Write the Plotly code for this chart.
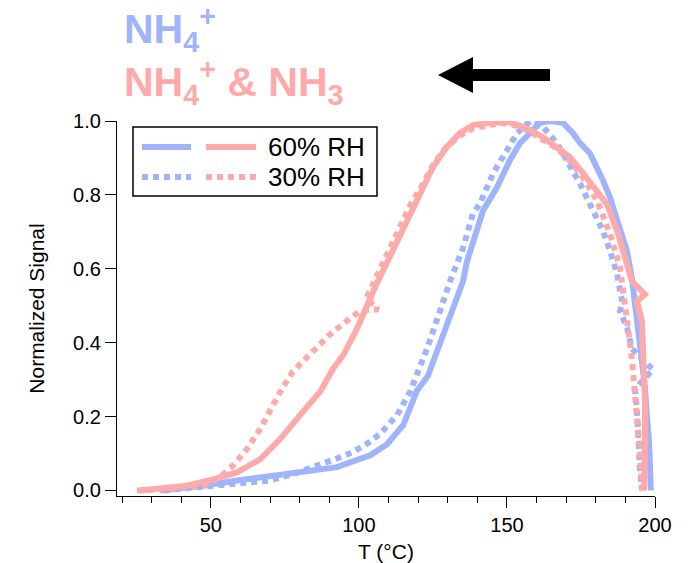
import plotly.graph_objects as go

# ---- data ----
blue_60_T = [32.8, 40, 47.4, 58.8, 70, 81, 92.6, 103.8, 109.5, 115, 118, 119.6, 123.3, 126.4, 128.4,
             131.8, 135.2, 136.5, 140.2, 141.9, 146.6, 151, 154.4, 157.8, 161.2, 164.5, 168.9, 172.3,
             174.7, 178, 180.4, 182.4, 184.8, 187.5, 190.5, 192.2, 193.9, 195.6, 196.6, 197.3, 198.0, 198.6]
blue_60_S = [0.0, 0.005, 0.013, 0.027, 0.04, 0.049, 0.063, 0.095, 0.125, 0.177, 0.235, 0.27, 0.31, 0.376, 0.43,
             0.493, 0.567, 0.62, 0.71, 0.757, 0.82, 0.894, 0.94, 0.967, 0.995, 1.0, 0.995, 0.967,
             0.94, 0.913, 0.875, 0.84, 0.793, 0.72, 0.648, 0.575, 0.466, 0.36, 0.28, 0.2, 0.13, 0.0]

blue_30_T = [34, 45, 53, 62, 70, 78, 86.9, 92, 98, 103, 107.1, 112.9, 117.3, 120.6, 123, 125,
             130.8, 135.2, 138.5, 140.9, 145.3, 150, 153.4, 157.8, 162.2, 166.9, 170.3, 172.3, 174.7,
             177.4, 182.4, 184.8, 187.2, 188.9, 188.2, 190.6, 192.2, 199.3, 193.2, 193.9, 194.3, 194.9, 195.6]
blue_30_S = [0.0, 0.008, 0.013, 0.02, 0.027, 0.045, 0.068, 0.085, 0.104, 0.128, 0.153, 0.204, 0.267, 0.33, 0.384, 0.43,
             0.567, 0.657, 0.749, 0.777, 0.858, 0.921, 0.967, 1.0, 0.984, 0.94, 0.894, 0.866, 0.83,
             0.785, 0.703, 0.649, 0.586, 0.512, 0.485, 0.439, 0.384, 0.327, 0.275, 0.22, 0.131, 0.057, 0.0]

pink_60_T = [26, 42, 50.7, 58.8, 66.6, 73.4, 80.1, 86.9, 91.3, 95, 99.4, 103.1, 106, 108.1, 111.5, 116.2,
             120.6, 125, 129.7, 134.1, 138.5, 144.3, 151, 156.8, 162.2, 166.9, 171.3, 175.7, 180.4,
             183.8, 187.5, 190.9, 192.2, 196.6, 193.9, 195.6, 196.3, 196.6, 196.6, 196.3]
pink_60_S = [0.0, 0.013, 0.03, 0.049, 0.084, 0.139, 0.204, 0.267, 0.33, 0.37, 0.439, 0.512, 0.56, 0.594, 0.649, 0.73,
             0.804, 0.875, 0.93, 0.967, 0.989, 0.995, 0.997, 0.98, 0.956, 0.929, 0.902, 0.858, 0.812,
             0.775, 0.695, 0.602, 0.567, 0.531, 0.512, 0.458, 0.349, 0.24, 0.131, 0.0]

pink_30_T = [25, 36, 47.4, 53, 57.5, 62.2, 66.6, 70, 73.4, 77.7, 84.5, 90.2, 97, 100.4, 103.5, 106.5,
             102.5, 106, 109.5, 113.5, 117.5, 121, 125, 129, 134, 138.5, 144, 148, 152, 157, 162,
             167, 171.5, 175.5, 180.4, 184.8, 188.2, 189.9, 190.9, 192.2, 193.2, 194.3, 194.9, 195.6]
pink_30_S = [0.0, 0.004, 0.013, 0.035, 0.068, 0.112, 0.166, 0.22, 0.267, 0.322, 0.376, 0.422, 0.466, 0.485, 0.49, 0.49,
             0.52, 0.58, 0.64, 0.71, 0.775, 0.82, 0.88, 0.925, 0.96, 0.98, 0.99, 0.995, 0.99, 0.975, 0.95,
             0.925, 0.89, 0.85, 0.785, 0.695, 0.602, 0.512, 0.439, 0.357, 0.275, 0.193, 0.104, 0.0]

x_ticks = [50, 100, 150, 200]
y_ticks = [0.0, 0.2, 0.4, 0.6, 0.8, 1.0]
legend_labels = ["60% RH", "30% RH"]

BLUE = "#a0b4fb"
PINK = "#ffaaaa"
LW = 6
DOT = "6px,5px"

# plot area in pixels (for placing decorations in paper coords)
L, R, T, B = 117, 655, 121, 496
def pxx(x):
    return (x - L) / (R - L)
def pxy(y):
    return (B - y) / (B - T)

fig = go.Figure()
fig.add_trace(go.Scatter(x=blue_60_T, y=blue_60_S, mode="lines",
                         line=dict(color=BLUE, width=LW), showlegend=False))
fig.add_trace(go.Scatter(x=blue_30_T, y=blue_30_S, mode="lines",
                         line=dict(color=BLUE, width=LW, dash=DOT), showlegend=False))
fig.add_trace(go.Scatter(x=pink_60_T, y=pink_60_S, mode="lines",
                         line=dict(color=PINK, width=LW), showlegend=False))
fig.add_trace(go.Scatter(x=pink_30_T, y=pink_30_S, mode="lines",
                         line=dict(color=PINK, width=LW, dash=DOT), showlegend=False))

font = "Liberation Sans, Arial, sans-serif"

shapes = []
# legend box
shapes.append(dict(type="rect", xref="paper", yref="paper",
                   x0=pxx(133), x1=pxx(377), y0=pxy(196), y1=pxy(127),
                   line=dict(color="black", width=1.5), fillcolor="white", layer="above"))
for row, (yy, dash) in enumerate([(147, None), (177, DOT)]):
    for (xa, xb, col) in [(142, 191, BLUE), (206, 256, PINK)]:
        ln = dict(color=col, width=LW)
        if dash:
            ln["dash"] = dash
        shapes.append(dict(type="line", xref="paper", yref="paper",
                           x0=pxx(xa), x1=pxx(xb), y0=pxy(yy), y1=pxy(yy), line=ln, layer="above"))
# arrow
arrow_pts = [(438, 75), (473, 57), (473, 69), (550, 69), (550, 81), (473, 81), (473, 93)]
path = "M " + " L ".join(f"{pxx(a):.5f},{pxy(b):.5f}" for a, b in arrow_pts) + " Z"
shapes.append(dict(type="path", xref="paper", yref="paper", path=path,
                   fillcolor="black", line=dict(color="black", width=0)))

annotations = []
for i, (lab, yy) in enumerate(zip(legend_labels, [147, 177])):
    annotations.append(dict(xref="paper", yref="paper", x=pxx(266), y=pxy(yy),
                            xanchor="left", yanchor="middle", text=lab, showarrow=False,
                            font=dict(family=font, size=26, color="black")))
annotations.append(dict(xref="paper", yref="paper", x=pxx(122), y=pxy(29),
                        xanchor="left", yanchor="middle",
                        text="<b>NH<sub>4</sub><sup>+</sup></b>", showarrow=False,
                        font=dict(family=font, size=41, color=BLUE)))
annotations.append(dict(xref="paper", yref="paper", x=pxx(122), y=pxy(82),
                        xanchor="left", yanchor="middle",
                        text="<b>NH<sub>4</sub><sup>+</sup> &amp; NH<sub>3</sub></b>", showarrow=False,
                        font=dict(family=font, size=41, color=PINK)))

fig.update_layout(
    width=697, height=563,
    margin=dict(l=L, r=697 - R, t=T, b=563 - B, autoexpand=False),
    paper_bgcolor="white", plot_bgcolor="white",
    shapes=shapes, annotations=annotations,
    font=dict(family=font, size=20, color="black"),
)
fig.update_xaxes(range=[18.3, 200], tickmode="array", tickvals=x_ticks, automargin=False,
                 ticks="outside", ticklen=11, tickwidth=1.2, tickcolor="black",
                 showline=True, linecolor="black", linewidth=1.2, showgrid=False, zeroline=False,
                 minor=dict(dtick=10, tick0=0, ticks="outside", ticklen=6, tickwidth=1.2, tickcolor="black"),
                 title=dict(text="T (°C)", font=dict(size=21), standoff=10),
                 tickfont=dict(size=20))
fig.update_yaxes(range=[-0.015, 1.0], tickmode="array", tickvals=y_ticks, tickformat=".1f", automargin=False,
                 ticks="outside", ticklen=11, tickwidth=1.2, tickcolor="black",
                 showline=True, linecolor="black", linewidth=1.2, showgrid=False, zeroline=False,
                 title=dict(text="Normalized Signal", font=dict(size=21), standoff=22),
                 tickfont=dict(size=20))

fig.write_html("out.html")
